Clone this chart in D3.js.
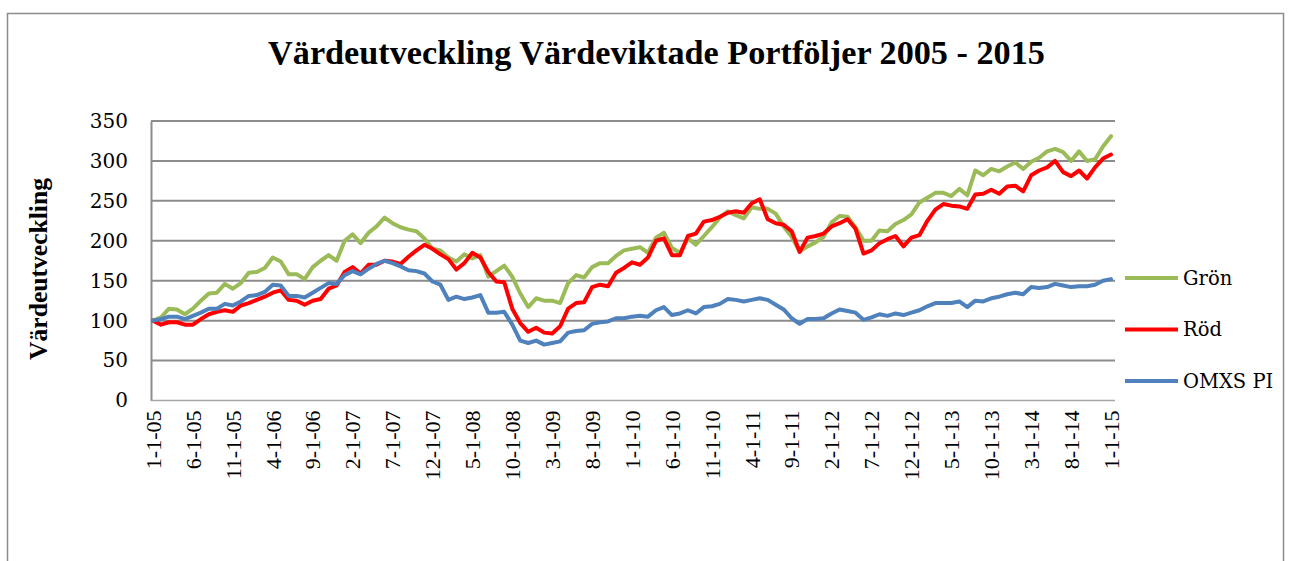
<!DOCTYPE html>
<html>
<head>
<meta charset="utf-8">
<script src="https://cdn.jsdelivr.net/npm/d3@7/dist/d3.min.js"></script>
<style>
body { margin: 0; background: #ffffff; }
</style>
</head>
<body>
<div id="vis"></div>
<script>
// series values, one per month from 1-1-05 to 1-1-15
var groen = [100,104,115,114,108,115,125,134,135,146,140,147,160,161,166,179,174,158,158,152,167,175,182,175,200,
    208,197,210,218,229,222,217,214,212,203,190,188,179,174,183,178,182,155,162,169,155,134,117,128,
    125,125,122,147,157,154,167,172,172,181,188,190,192,185,204,210,191,185,203,195,206,217,229,237,232,
    228,242,240,240,234,218,205,187,193,198,205,223,231,230,217,200,200,213,212,221,226,233,248,254,
    260,260,256,265,257,288,282,290,287,293,298,290,299,304,312,315,311,300,312,300,302,318,331];

var roed = [100,95,98,98,95,95,102,108,111,113,111,119,122,126,130,135,138,126,125,120,125,127,140,144,161,
    167,159,170,170,175,174,171,180,188,195,190,183,177,164,172,185,179,161,149,148,115,97,86,91,
    85,84,93,115,122,123,142,145,143,160,166,173,170,179,200,203,182,182,206,209,224,226,230,235,237,
    235,247,252,227,222,220,212,186,204,206,209,218,222,227,215,184,188,197,202,206,193,204,207,225,
    239,246,244,243,240,258,259,264,259,268,269,262,282,288,292,300,286,281,288,278,292,303,308];

var omxs = [100,102,105,105,102,106,110,115,115,121,119,124,131,132,136,145,144,131,131,129,135,141,147,146,157,
    162,158,165,171,175,172,168,163,162,159,149,145,126,130,127,129,132,110,110,111,95,75,72,75,
    70,72,74,85,87,88,96,98,99,103,103,105,106,105,113,117,107,109,113,109,117,118,121,127,126,
    124,126,128,126,120,114,103,96,102,102,103,109,114,112,110,101,104,108,106,109,107,110,113,118,
    122,122,122,124,117,125,124,128,130,133,135,133,142,141,142,146,144,142,143,143,145,150,152];

var seriesNames = ['Grön', 'Röd', 'OMXS PI'];
var seriesColors = ['#9BBB59', '#FF0000', '#4F81BD'];

var yTicks = [0, 50, 100, 150, 200, 250, 300, 350];
var tickLabels = ['1-1-05', '6-1-05', '11-1-05', '4-1-06', '9-1-06', '2-1-07', '7-1-07', '12-1-07',
    '5-1-08', '10-1-08', '3-1-09', '8-1-09', '1-1-10', '6-1-10', '11-1-10', '4-1-11', '9-1-11',
    '2-1-12', '7-1-12', '12-1-12', '5-1-13', '10-1-13', '3-1-14', '8-1-14', '1-1-15'];

var titleText = 'Värdeutveckling Värdeviktade Portföljer 2005 - 2015';
var yTitleText = 'Värdeutveckling';

// month categories, same format as the tick labels
var months = [];
for(var i = 0; i < groen.length; ++i)
{
    var yy = 5 + Math.floor(i / 12);
    months.push((i % 12 + 1) + '-1-' + (yy < 10 ? '0' : '') + yy);
}

var width = 1292, height = 561;
var gridColor = '#8C8C8C';
var serif = '"DejaVu Serif", serif';
var times = '"Liberation Serif", serif';

var svg = d3.select('#vis')
    .append('svg')
        .attr('width', width)
        .attr('height', height);

// chart border
svg.append('rect')
    .attr('x', 7.5)
    .attr('y', 13.5)
    .attr('width', 1276)
    .attr('height', 600)
    .attr('fill', 'none')
    .attr('stroke', gridColor)
    .attr('stroke-width', 1.5);

var plot = { left: 151, right: 1115, top: 121, bottom: 400.5 };

var x = d3.scalePoint()
    .domain(months)
    .range([153, 1111]);

var y = d3.scaleLinear()
    .domain([0, 350])
    .range([plot.bottom, plot.top]);

// gridlines
svg.append('g')
    .selectAll('line')
    .data(yTicks.filter(function(d) { return d > 0; }))
    .enter()
    .append('line')
        .attr('x1', plot.left)
        .attr('x2', plot.right)
        .attr('y1', function(d) { return y(d); })
        .attr('y2', function(d) { return y(d); })
        .attr('stroke', gridColor)
        .attr('stroke-width', 2);

// y axis
var yAxis = svg.append('g')
    .attr('transform', 'translate(' + plot.left + ',0)')
    .call(d3.axisLeft(y).tickValues(yTicks).tickSize(0).tickPadding(23));
yAxis.select('.domain')
    .attr('stroke', gridColor)
    .attr('stroke-width', 2);
yAxis.selectAll('text')
    .attr('font-family', serif)
    .attr('font-size', 20)
    .attr('fill', '#000');

// x axis
var xAxis = svg.append('g')
    .attr('transform', 'translate(0,' + plot.bottom + ')')
    .call(d3.axisBottom(x).tickValues(tickLabels).tickSize(0));
xAxis.select('.domain')
    .attr('d', 'M' + plot.left + ',0H' + plot.right)
    .attr('stroke', '#A6A6A6')
    .attr('stroke-width', 1.5);
xAxis.selectAll('text')
    .attr('font-family', times)
    .attr('font-size', 22)
    .attr('fill', '#000')
    .attr('text-anchor', 'end')
    .attr('transform', 'rotate(-90)')
    .attr('x', -10)
    .attr('y', 0)
    .attr('dy', '0.33em');

// series lines
var seriesData = [groen, roed, omxs];
var line = d3.line()
    .x(function(d, i) { return x(months[i]); })
    .y(function(d) { return y(d); });

svg.append('g')
    .selectAll('path')
    .data(seriesData)
    .enter()
    .append('path')
        .attr('d', line)
        .attr('fill', 'none')
        .attr('stroke', function(d, i) { return seriesColors[i]; })
        .attr('stroke-width', 4)
        .attr('stroke-linejoin', 'round')
        .attr('stroke-linecap', 'round');

// legend
var legendY = [278, 329.5, 381];
var legend = svg.append('g')
    .selectAll('g')
    .data(seriesNames)
    .enter()
    .append('g')
        .attr('transform', function(d, i) { return 'translate(1125,' + legendY[i] + ')'; });
legend.append('line')
    .attr('x1', 0)
    .attr('x2', 53)
    .attr('stroke', function(d, i) { return seriesColors[i]; })
    .attr('stroke-width', 4);
legend.append('text')
    .attr('x', 58)
    .attr('dy', '0.35em')
    .attr('font-family', serif)
    .attr('font-size', 19.5)
    .text(function(d) { return d; });

// fit a text element to a target width
function fitText(sel, target)
{
    var len = sel.node().getComputedTextLength();
    var fs = parseFloat(sel.attr('font-size'));
    sel.attr('font-size', fs * target / len);
}

// title
var title = svg.append('text')
    .attr('x', 656.5)
    .attr('y', 64)
    .attr('text-anchor', 'middle')
    .attr('font-family', times)
    .attr('font-weight', 'bold')
    .attr('font-size', 30)
    .text(titleText);
fitText(title, 777);

// y title
var yTitle = svg.append('text')
    .attr('transform', 'translate(47,269) rotate(-90)')
    .attr('text-anchor', 'middle')
    .attr('font-family', times)
    .attr('font-weight', 'bold')
    .attr('font-size', 18)
    .text(yTitleText);
fitText(yTitle, 182);
</script>
</body>
</html>
